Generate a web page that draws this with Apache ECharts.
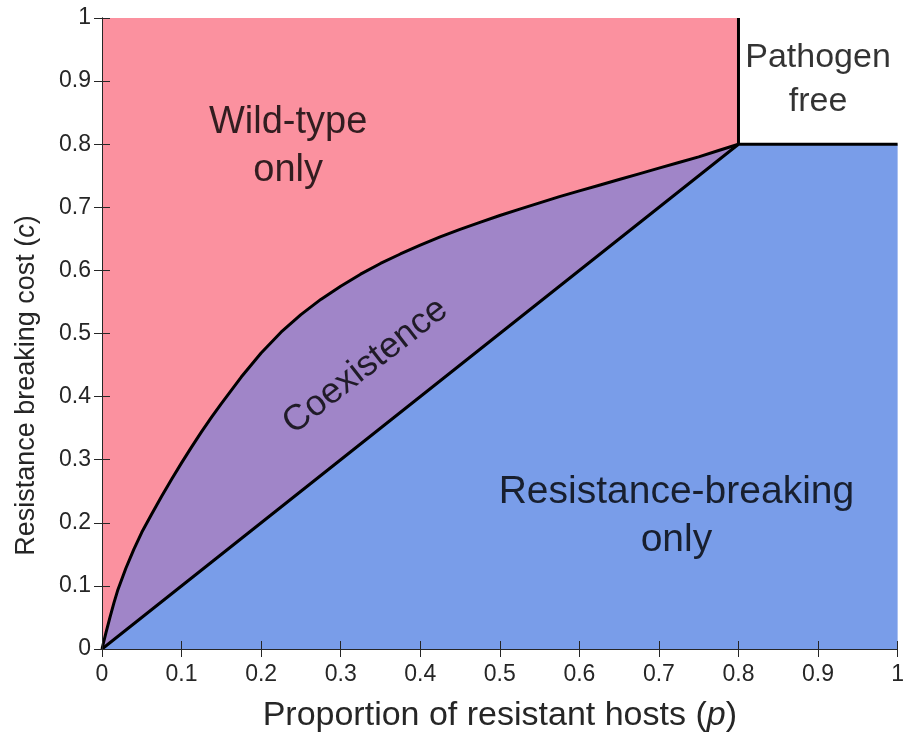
<!DOCTYPE html>
<html>
<head>
<meta charset="utf-8">
<script src="https://cdn.jsdelivr.net/npm/echarts@6/dist/echarts.min.js"></script>
<style>
  html, body { margin: 0; padding: 0; background: #fff; }
  #chart { width: 907px; height: 738px; }
</style>
</head>
<body>
<div id="chart"></div>
<script>
// boundary between "wild-type only" and "coexistence"
const upperP = [0, 0.005, 0.01, 0.015, 0.02, 0.03, 0.04, 0.05, 0.0625, 0.075, 0.0875, 0.1, 0.1125, 0.125, 0.1375, 0.15,
  0.175, 0.2, 0.225, 0.25, 0.275, 0.3, 0.325, 0.35, 0.375, 0.4, 0.425, 0.45, 0.475, 0.5,
  0.525, 0.55, 0.575, 0.6, 0.625, 0.65, 0.675, 0.7, 0.725, 0.75, 0.775, 0.8];
const upperC = [0, 0.026, 0.05, 0.073, 0.094, 0.128, 0.158, 0.185, 0.214, 0.242, 0.269, 0.295, 0.32, 0.344, 0.367, 0.389,
  0.431, 0.469, 0.502, 0.53, 0.554, 0.575, 0.594, 0.611, 0.626, 0.64, 0.653, 0.665, 0.676, 0.687,
  0.697, 0.707, 0.717, 0.726, 0.735, 0.744, 0.753, 0.762, 0.771, 0.78, 0.79, 0.8];
// boundary of "resistance-breaking only" (c = p up to 0.8, then flat)
const lowerP = [0, 0.8, 1];
const lowerC = [0, 0.8, 0.8];
// vertical edge of the pathogen free box
const edgeP = [0.8, 0.8];
const edgeC = [0.8, 1];

const tickLabels = ['0', '0.1', '0.2', '0.3', '0.4', '0.5', '0.6', '0.7', '0.8', '0.9', '1'];

// region labels, placed in data coordinates
const regionNames = ['Wild-type\nonly', 'Coexistence', 'Resistance-breaking\nonly', 'Pathogen\nfree'];
const regionP = [0.234, 0.331, 0.722, 0.9];
const regionC = [0.797, 0.448, 0.21, 0.902];
const regionRotate = [0, 38, 0, 0];
const regionSize = [38, 36, 39, 34];
const regionLine = [48, 44, 48, 44];

const RED = '#fb919f';
const PURPLE = '#a085c8';
const BLUE = '#799de9';
const AXIS = '#262626';
const FONT = 'Liberation Sans, Arial, sans-serif';

const zip = (xs, ys) => xs.map((x, i) => [x, ys[i]]);

const chart = echarts.init(document.getElementById('chart'));

const axisBase = {
  type: 'value',
  min: 0,
  max: 1,
  interval: 0.1,
  z: 5,
  splitLine: { show: false },
  axisLine: { show: true, lineStyle: { color: AXIS, width: 1 } },
  axisTick: { show: true, inside: true, length: 8, lineStyle: { color: AXIS } }
};

const labelStyle = {
  color: AXIS,
  fontSize: 23,
  fontFamily: FONT,
  formatter: v => tickLabels[Math.round(v * 10)]
};

const option = {
  animation: false,
  backgroundColor: '#fff',
  grid: { left: 102, right: 5, top: 18, bottom: 88 },
  xAxis: [
    Object.assign({}, axisBase, {
      position: 'bottom',
      name: 'Proportion of resistant hosts ({i|p})',
      nameLocation: 'middle',
      nameGap: 50,
      nameTextStyle: {
        color: AXIS, fontSize: 34, fontFamily: FONT,
        rich: { i: { fontStyle: 'italic', fontSize: 34, fontFamily: FONT, color: AXIS } }
      },
      axisLabel: Object.assign({ margin: 14 }, labelStyle)
    }),
    Object.assign({}, axisBase, { position: 'top', axisLabel: { show: false } })
  ],
  yAxis: [
    Object.assign({}, axisBase, {
      position: 'left',
      name: 'Resistance breaking cost ({i|c})',
      nameLocation: 'middle',
      nameGap: 62,
      nameTextStyle: {
        color: AXIS, fontSize: 27, fontFamily: FONT,
        // push the title down along the axis, as in the original
        padding: [0, 104, 0, 0],
        rich: { i: { fontStyle: 'italic', fontSize: 27, fontFamily: FONT, color: AXIS } }
      },
      axisLabel: Object.assign({ margin: 11 }, labelStyle)
    }),
    Object.assign({}, axisBase, { position: 'right', axisLabel: { show: false } })
  ],
  series: [
    {
      // coexistence: fill under the upper curve, blue is laid over it
      type: 'line',
      data: zip(upperP, upperC),
      symbol: 'none',
      silent: true,
      lineStyle: { width: 0 },
      areaStyle: { color: PURPLE, opacity: 1, origin: 'start' },
      z: 2
    },
    {
      type: 'line',
      data: zip(lowerP, lowerC),
      symbol: 'none',
      silent: true,
      lineStyle: { color: '#000', width: 3 },
      areaStyle: { color: BLUE, opacity: 1, origin: 'start' },
      z: 3
    },
    {
      type: 'line',
      data: zip(upperP, upperC),
      symbol: 'none',
      silent: true,
      lineStyle: { color: '#000', width: 3, join: 'round' },
      areaStyle: { color: RED, opacity: 1, origin: 'end' },
      z: 3
    },
    {
      type: 'line',
      data: zip(edgeP, edgeC),
      symbol: 'none',
      silent: true,
      lineStyle: { color: '#000', width: 3 },
      z: 4
    },
    {
      type: 'scatter',
      symbolSize: 0,
      silent: true,
      z: 6,
      data: regionNames.map((n, i) => ({
        value: [regionP[i], regionC[i]],
        label: {
          show: true,
          position: 'inside',
          formatter: n,
          rotate: regionRotate[i],
          fontSize: regionSize[i],
          lineHeight: regionLine[i],
          color: '#000',
          align: 'center',
          verticalAlign: 'middle',
          fontFamily: FONT
        }
      }))
    }
  ]
};

chart.setOption(option);
</script>
</body>
</html>
